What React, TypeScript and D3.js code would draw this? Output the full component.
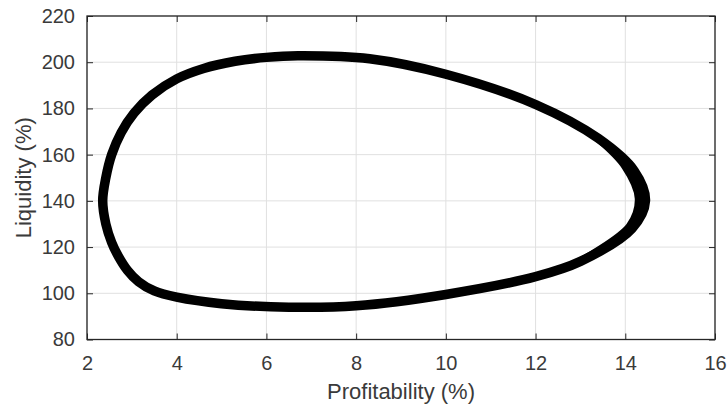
import React, { useEffect, useRef } from 'react';
import * as d3 from 'd3';

// Chart size and plot box
const W = 728;
const H = 406;
const margin = { top: 16, right: 13, bottom: 66.5, left: 87 };

// Limit cycle (clockwise from the leftmost point)
const profitability = [
  2.35, 2.42, 2.55, 2.76, 3.05, 3.45, 4.0, 4.6, 5.3, 6.0, 6.7, 8.3, 10.0, 12.0, 13.4, 14.2, 14.45, 14.15,
  13.0, 12.0, 10.0, 8.0, 6.5, 5.0, 4.0, 3.5, 3.15, 2.9, 2.7, 2.55, 2.42,
];
const liquidity = [
  140, 150, 160, 169.5, 178, 185.8, 192.8, 197.3, 200.4, 202.1, 202.8, 201.5, 194.8, 181.7, 167, 153, 140,
  128, 113.8, 107.2, 99.5, 94.6, 94, 95.5, 98.3, 101, 105, 110, 116, 122, 130,
];

// Earlier passes that thicken the band near the right turn
const innerProfitability = [13.4, 14.0, 14.3, 14.1, 13.0];
const innerLiquidity = [167, 155, 141, 129, 113.8];

const xTicks = [2, 4, 6, 8, 10, 12, 14, 16];
const yTicks = [80, 100, 120, 140, 160, 180, 200, 220];

const axisColor = '#262626';
const textColor = '#3a3a3a';
const gridColor = '#e0e0e0';
const font = '"Liberation Sans", Arial, sans-serif';

export default function App() {
  const ref = useRef<SVGSVGElement>(null);

  useEffect(() => {
    const svg = d3.select(ref.current).html('');
    const iw = W - margin.left - margin.right;
    const ih = H - margin.top - margin.bottom;

    const x = d3.scaleLinear().domain([2, 16]).range([0, iw]);
    const y = d3.scaleLinear().domain([80, 220]).range([ih, 0]);

    const g = svg.append('g').attr('transform', `translate(${margin.left},${margin.top})`);

    // Grid
    g.append('g')
      .selectAll('line')
      .data(xTicks)
      .enter()
      .append('line')
      .attr('x1', (d) => x(d))
      .attr('x2', (d) => x(d))
      .attr('y1', 0)
      .attr('y2', ih)
      .attr('stroke', gridColor);
    g.append('g')
      .selectAll('line')
      .data(yTicks)
      .enter()
      .append('line')
      .attr('x1', 0)
      .attr('x2', iw)
      .attr('y1', (d) => y(d))
      .attr('y2', (d) => y(d))
      .attr('stroke', gridColor);

    // The cycle
    const pts: [number, number][] = profitability.map((p, i) => [x(p), y(liquidity[i])]);
    const closed = d3.line().curve(d3.curveCatmullRomClosed.alpha(0.5));
    g.append('path')
      .attr('d', closed(pts))
      .attr('fill', 'none')
      .attr('stroke', '#000')
      .attr('stroke-width', 9.5)
      .attr('stroke-linejoin', 'round');

    const inner: [number, number][] = innerProfitability.map((p, i) => [x(p), y(innerLiquidity[i])]);
    const open = d3.line().curve(d3.curveCatmullRom.alpha(0.5));
    g.append('path')
      .attr('d', open(inner))
      .attr('fill', 'none')
      .attr('stroke', '#000')
      .attr('stroke-width', 8)
      .attr('stroke-linecap', 'round');

    // Axes with inward ticks on all sides
    const styleAxis = (sel: any) => {
      sel.select('.domain').remove();
      sel.selectAll('.tick line').attr('stroke', axisColor);
      sel.selectAll('.tick text').attr('fill', textColor).attr('font-family', font).attr('font-size', 20);
    };
    g.append('g')
      .attr('transform', `translate(0,${ih})`)
      .call(d3.axisBottom(x).tickValues(xTicks).tickSize(-6).tickPadding(16))
      .call(styleAxis);
    g.append('g')
      .call(d3.axisLeft(y).tickValues(yTicks).tickSize(-6).tickPadding(12))
      .call(styleAxis);
    g.append('g')
      .call(d3.axisTop(x).tickValues(xTicks).tickSize(-6).tickFormat(() => ''))
      .call(styleAxis);
    g.append('g')
      .attr('transform', `translate(${iw},0)`)
      .call(d3.axisRight(y).tickValues(yTicks).tickSize(-6).tickFormat(() => ''))
      .call(styleAxis);

    g.append('rect')
      .attr('width', iw)
      .attr('height', ih)
      .attr('fill', 'none')
      .attr('stroke', axisColor)
      .attr('stroke-width', 1.3);

    // Axis titles
    svg.append('text')
      .attr('x', margin.left + iw / 2)
      .attr('y', 399)
      .attr('text-anchor', 'middle')
      .attr('fill', textColor)
      .attr('font-family', font)
      .attr('font-size', 22)
      .text('Profitability (%)');
    svg.append('text')
      .attr('transform', `translate(31,${margin.top + ih / 2}) rotate(-90)`)
      .attr('text-anchor', 'middle')
      .attr('fill', textColor)
      .attr('font-family', font)
      .attr('font-size', 22)
      .text('Liquidity (%)');
  }, []);

  return (
    <div style={{ position: 'absolute', left: 0, top: 0, background: '#fff' }}>
      <svg ref={ref} width={W} height={H} style={{ display: 'block' }} />
    </div>
  );
}
